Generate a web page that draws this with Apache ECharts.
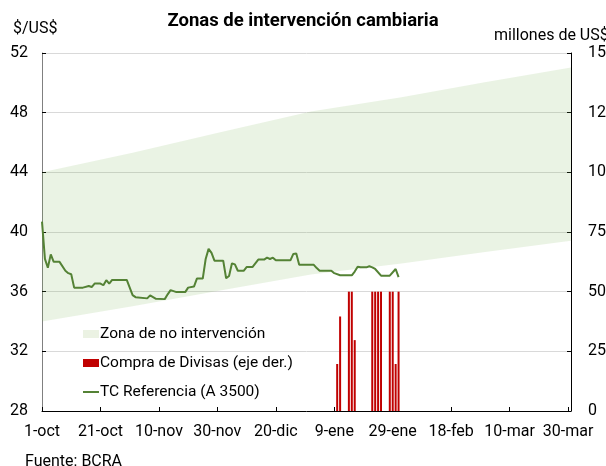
<!DOCTYPE html>
<html><head><meta charset="utf-8">
<script src="https://cdn.jsdelivr.net/npm/echarts@6/dist/echarts.min.js"></script>
<style>html,body{margin:0;padding:0;background:#fff}#c{width:606px;height:466px}</style>
</head><body><div id="c"></div>
<script>
// x values are days since 1-oct (2018)
const tickLabels = ['1-oct','21-oct','10-nov','30-nov','20-dic','9-ene','29-ene','18-feb','10-mar','30-mar'];
const bandDays = [0, 31, 61, 92, 123, 151, 181];
const bandLow  = [34.0, 35.02, 36.07, 37.15, 37.89, 38.65, 39.42];
const bandHigh = [44.0, 45.32, 46.68, 48.08, 49.04, 50.02, 51.02];
const tcDays = [0,1,2,3,4,6,8,9,10,11,14,16,17,18,20,21,22,23,24,29,31,32,36,37,39,42,43,44,46,49,50,52,53,55,56,57,58,59,62,63,64,65,66,67,69,70,72,74,76,77,78,79,80,85,86,87,88,93,94,95,99,100,102,106,107,108,109,111,112,113,114,116,119,121,122];
const tcValues = [40.7,38.2,37.6,38.5,38.0,38.0,37.4,37.24,37.17,36.27,36.27,36.38,36.31,36.54,36.54,36.43,36.77,36.54,36.79,36.79,35.77,35.63,35.55,35.75,35.52,35.5,35.82,36.1,35.97,35.97,36.27,36.34,36.88,36.88,38.19,38.87,38.6,38.08,38.08,36.9,37.05,37.9,37.83,37.4,37.4,37.65,37.65,38.15,38.15,38.28,38.19,38.28,38.1,38.1,38.53,38.56,37.8,37.8,37.58,37.4,37.4,37.24,37.1,37.1,37.35,37.67,37.63,37.63,37.7,37.63,37.52,37.07,37.07,37.52,36.97];
const buyDays = [101,102,105,106,107,113,114,115,116,119,120,121,122];
const buyValues = [19.7,39.6,50,50,29.7,50,50,50,50,50,50,19.7,50];

const FONT = 'Roboto';
const BAND = '#ebf2e3';
const pair = (xs, ys) => xs.map((x, i) => [x, ys[i]]);

const chart = echarts.init(document.getElementById('c'), null, {renderer: 'canvas'});
chart.setOption({
  animation: false,
  textStyle: {fontFamily: FONT, color: '#000'},
  title: [
    {text: 'Zonas de intervención cambiaria', left: 'center', top: 12, padding: 0,
     textStyle: {fontFamily: FONT, fontSize: 18.5, fontWeight: 'bold', color: '#000'}},
    {text: '$/US$', left: 13, top: 21, padding: 0,
     textStyle: {fontFamily: FONT, fontSize: 16, fontWeight: 'normal', color: '#000'}},
    {text: 'millones de US$', left: 494, top: 28, padding: 0,
     textStyle: {fontFamily: FONT, fontSize: 16, fontWeight: 'normal', color: '#000'}},
    {text: 'Fuente: BCRA', left: 25, top: 454, padding: 0,
     textStyle: {fontFamily: FONT, fontSize: 16, fontWeight: 'normal', color: '#000'}}
  ],
  legend: {
    orient: 'vertical', left: 82, top: 326, itemGap: 13, itemWidth: 16, itemHeight: 8,
    padding: 0,
    textStyle: {fontFamily: FONT, fontSize: 15.5, color: '#000', padding: [0, 0, 0, -4]},
    data: [
      {name: 'Zona de no intervención', icon: 'rect', itemStyle: {color: BAND}},
      {name: 'Compra de Divisas (eje der.)', icon: 'rect'},
      {name: 'TC Referencia (A 3500)', itemStyle: {opacity: 0}}
    ]
  },
  grid: {left: 42, right: 35, top: 53, bottom: 55, containLabel: false, outerBoundsMode: 'none'},
  xAxis: {
    type: 'value', min: 0, max: 181, interval: 20,
    axisLine: {show: true, lineStyle: {color: '#000', width: 1}},
    axisTick: {show: true, inside: true, length: 4, lineStyle: {color: '#000'}},
    axisLabel: {fontFamily: FONT, fontSize: 16, color: '#000', margin: 13,
      formatter: v => (v % 20 === 0 && tickLabels[v / 20] !== undefined) ? tickLabels[v / 20] : ''},
    splitLine: {show: false}
  },
  yAxis: [
    {type: 'value', min: 28, max: 52, interval: 4, position: 'left',
     axisLine: {show: true, lineStyle: {color: '#808080', width: 1}},
     axisTick: {show: true, inside: true, length: 4, lineStyle: {color: '#000'}},
     axisLabel: {fontFamily: FONT, fontSize: 16, color: '#000', margin: 14},
     splitLine: {show: true, lineStyle: {color: '#d9d9d9', width: 1}}},
    {type: 'value', min: 0, max: 150, interval: 25, position: 'right',
     axisLine: {show: true, lineStyle: {color: '#000', width: 1}},
     axisTick: {show: true, inside: true, length: 4, lineStyle: {color: '#000'}},
     axisLabel: {fontFamily: FONT, fontSize: 16, color: '#000', margin: 17},
     splitLine: {show: false}}
  ],
  series: [
    {name: 'Zona de no intervención', type: 'custom', coordinateSystem: 'cartesian2d',
     data: pair(bandDays, bandHigh), itemStyle: {color: BAND}, silent: true, clip: true, z: 1,
     renderItem: (params, api) => {
       if (params.dataIndex !== 0) return null;
       const pts = [];
       for (let i = 0; i < bandDays.length; i++) pts.push(api.coord([bandDays[i], bandHigh[i]]));
       for (let i = bandDays.length - 1; i >= 0; i--) pts.push(api.coord([bandDays[i], bandLow[i]]));
       return {type: 'polygon', shape: {points: pts}, style: {fill: 'rgba(112,173,71,0.15)'}};
     }},
    {name: 'Compra de Divisas (eje der.)', type: 'bar', yAxisIndex: 1, data: pair(buyDays, buyValues),
     barWidth: 2, itemStyle: {color: '#c00000'}, z: 2},
    {name: 'TC Referencia (A 3500)', type: 'line', data: pair(tcDays, tcValues),
     symbol: 'none', lineStyle: {color: '#548235', width: 2}, itemStyle: {color: '#548235'}, z: 3}
  ]
});
</script>
</body></html>
